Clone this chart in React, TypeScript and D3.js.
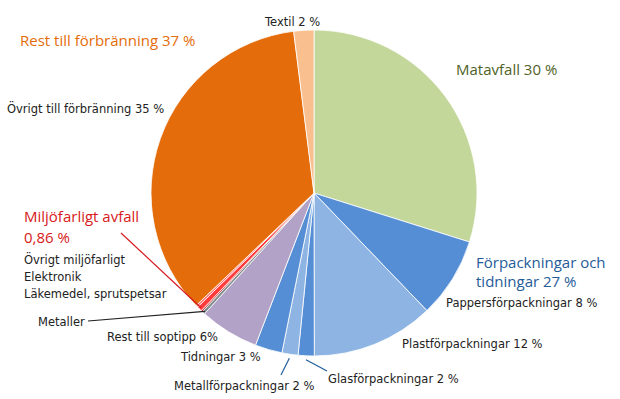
import React from "react";
import * as d3 from "d3";

// slices clockwise from 12 o'clock
const categories = [
  "Matavfall",
  "Pappersförpackningar",
  "Plastförpackningar",
  "Glasförpackningar",
  "Metallförpackningar",
  "Tidningar",
  "Rest till soptipp",
  "Metaller",
  "Läkemedel, sprutspetsar",
  "Elektronik",
  "Övrigt miljöfarligt",
  "Övrigt till förbränning",
  "Textil",
];
const shares = [30, 8, 12.2, 1.6, 1.6, 2.7, 5.9, 0.3, 0.15, 0.5, 0.21, 35.3, 2];
const colors = [
  "#c4d79b", "#558ed5", "#8db4e2", "#558ed5", "#8db4e2", "#558ed5",
  "#b3a2c7", "#7f8c8d", "#c0282d", "#ff3b3b", "#ff7070", "#e46c0a", "#fabf8f",
];

const W = 620;
const H = 399;
const cx = 314;
const cy = 193;
const R = 163;

const App = () => {
  const pie = d3.pie<number>().sort(null).value(d => d);
  const arcs = pie(shares);
  const arc = d3.arc<d3.PieArcDatum<number>>().innerRadius(0).outerRadius(R);

  // point on rim at mid-angle of a slice
  const rim = (i: number, r = R) => {
    const a = (arcs[i].startAngle + arcs[i].endAngle) / 2;
    return [cx + r * Math.sin(a), cy - r * Math.cos(a)];
  };

  const small = { fontFamily: "'DejaVu Sans', sans-serif", fontSize: 11.5, fill: "#222" };
  const big = { fontFamily: "'Open Sans', sans-serif", fontSize: 15, fontWeight: 500 };

  const glas = rim(3, R + 4);
  const metall = rim(4, R + 4);
  const metaller = rim(7, R - 2);
  const miljo = rim(9, R - 2);

  return (
    <div>
      <style>{`body{margin:0}`}</style>
      <svg width={W} height={H} style={{ display: "block", background: "#fff" }}>
        <g transform={`translate(${cx},${cy})`}>
          {arcs.map((a, i) => (
            <path key={categories[i]} d={arc(a) || ""} fill={colors[i]} stroke="#fff" strokeWidth={0.8} />
          ))}
        </g>

        {/* leader lines */}
        <line x1={glas[0]} y1={glas[1]} x2={327} y2={371} stroke="#1f5c99" strokeWidth={1.2} />
        <line x1={metall[0]} y1={metall[1]} x2={281} y2={375} stroke="#1f5c99" strokeWidth={1.2} />
        <line x1={88} y1={321} x2={metaller[0]} y2={metaller[1]} stroke="#222" strokeWidth={1.2} />
        <line x1={121} y1={233} x2={miljo[0]} y2={miljo[1]} stroke="#d71920" strokeWidth={1.2} />

        {/* labels */}
        <text x={265} y={26} {...small}>Textil 2 %</text>
        <text x={456} y={75} {...big} fill="#4f6228">Matavfall 30 %</text>
        <text x={476} y={268} {...big} fill="#1f5c99">Förpackningar och</text>
        <text x={476} y={287} {...big} fill="#1f5c99">tidningar 27 %</text>
        <text x={446} y={307} {...small}>Pappersförpackningar 8 %</text>
        <text x={402} y={348} {...small}>Plastförpackningar 12 %</text>
        <text x={328} y={383} {...small}>Glasförpackningar 2 %</text>
        <text x={174} y={390} {...small}>Metallförpackningar 2 %</text>
        <text x={181} y={361} {...small}>Tidningar 3 %</text>
        <text x={107} y={341} {...small}>Rest till soptipp 6%</text>
        <text x={38} y={326} {...small}>Metaller</text>
        <text x={24} y={222} {...big} fill="#d71920">Miljöfarligt avfall</text>
        <text x={24} y={243} {...big} fill="#d71920">0,86 %</text>
        <text x={24} y={264} {...small}>Övrigt miljöfarligt</text>
        <text x={24} y={281} {...small}>Elektronik</text>
        <text x={24} y={298} {...small}>Läkemedel, sprutspetsar</text>
        <text x={7} y={113} {...small}>Övrigt till förbränning 35 %</text>
        <text x={20} y={46} {...big} fill="#e46c0a">Rest till förbränning 37 %</text>
      </svg>
    </div>
  );
};

export default App;
